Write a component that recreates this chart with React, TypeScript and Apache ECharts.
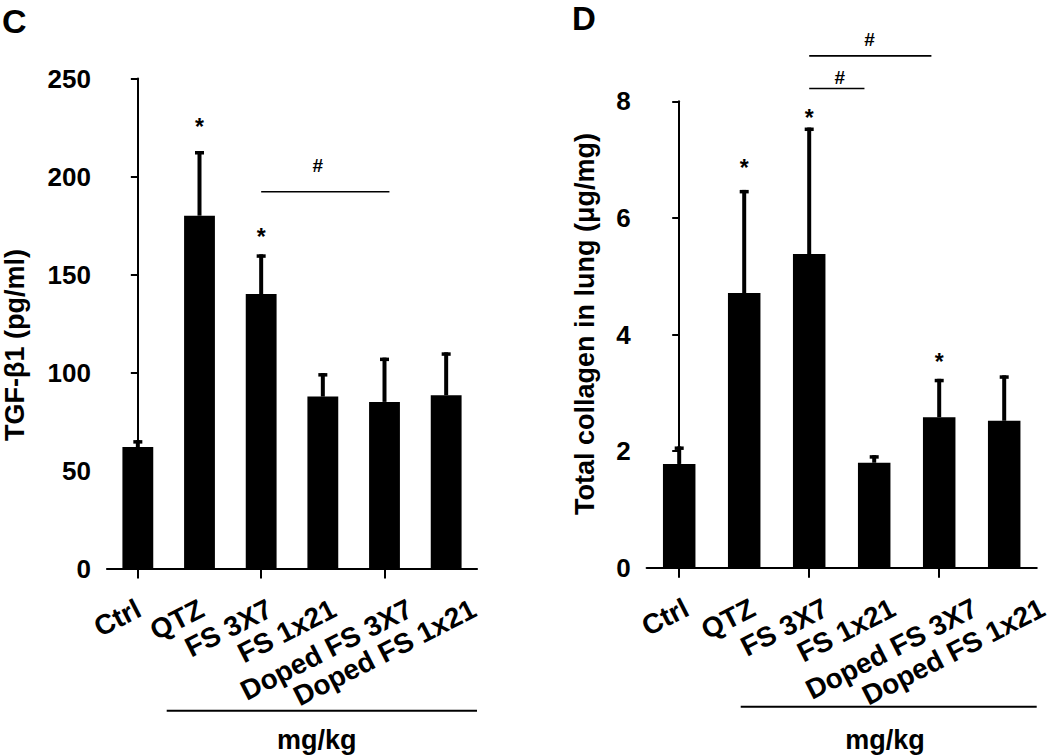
import React, { useEffect, useRef } from "react";
import * as echarts from "echarts";

const FONT = "'Liberation Sans', Arial, Helvetica, sans-serif";

// Categories (shared by both panels)
const categories = ["Ctrl", "QTZ", "FS 3X7", "FS 1x21", "Doped FS 3X7", "Doped FS 1x21"];

// Panel C: TGF-β1 (pg/ml)
const tgfMean = [62, 180, 140, 87.7, 85, 88.4];
const tgfUpper = [65.5, 213, 160.3, 99.7, 107.6, 110.3];
const tgfAxis = { min: 0, max: 250, interval: 50 };
// significance annotations: [categoryPosition, value]
const tgfStars = [
  [1, 228],
  [2, 171.8],
];
// brackets: [fromPos, toPos, lineValue, labelPos, labelValue]
const tgfBrackets = [[2, 4.08, 192.2, 2.92, 205.5]];

// Panel D: Total collagen in lung (μg/mg)
const colMean = [1.78, 4.71, 5.38, 1.8, 2.58, 2.52];
const colUpper = [2.08, 6.48, 7.55, 1.93, 3.24, 3.3];
const colAxis = { min: 0, max: 8, interval: 2 };
const colStars = [
  [1, 6.94],
  [2, 7.8],
  [4, 3.61],
];
const colBrackets = [
  [2, 2.85, 8.22, 2.47, 8.4],
  [2, 3.88, 8.78, 2.93, 9.06],
];

const panelLabels = ["C", "D"];
const yTitles = ["TGF-β1 (pg/ml)", "Total collagen in lung (μg/mg)"];
const doseLabel = "mg/kg";

// ---- styling / layout (not data) ----
const LABEL_FONT = `bold 28px ${FONT}`;
const LABEL_ROT = (27 * Math.PI) / 180;
const LABEL_GAP = 38.5;
const labelShift = [
  { base: -7.6, perWidth: 0.177 },
  { base: -2.5, perWidth: 0.205 },
];

let measureCtx: CanvasRenderingContext2D | null = null;
function textWidth(t: string, font: string): number {
  if (!measureCtx) measureCtx = document.createElement("canvas").getContext("2d");
  if (!measureCtx) return t.length * 15;
  measureCtx.font = font;
  return measureCtx.measureText(t).width;
}

function errorRender(params: any, api: any) {
  const i = api.value(0);
  const mean = api.value(1);
  const up = api.value(2);
  const top = api.coord([i, up]);
  const base = api.coord([i, mean]);
  return {
    type: "group",
    children: [
      {
        type: "rect",
        shape: { x: top[0] - 2, y: top[1], width: 4, height: base[1] - top[1] },
        style: { fill: "#000" },
      },
      {
        type: "rect",
        shape: { x: top[0] - 4.5, y: top[1], width: 9, height: 3.5 },
        style: { fill: "#000" },
      },
    ],
  };
}

function starRender(params: any, api: any) {
  const p = api.coord([api.value(0), api.value(1)]);
  return {
    type: "text",
    x: p[0],
    y: p[1] + 5,
    style: {
      text: "*",
      fill: "#000",
      font: `bold 23px ${FONT}`,
      align: "center",
      verticalAlign: "middle",
    },
  };
}

function bracketRender(params: any, api: any) {
  const a = api.coord([api.value(0), api.value(2)]);
  const b = api.coord([api.value(1), api.value(2)]);
  const l = api.coord([api.value(3), api.value(4)]);
  return {
    type: "group",
    children: [
      {
        type: "line",
        shape: { x1: a[0], y1: a[1], x2: b[0], y2: b[1] },
        style: { stroke: "#000", lineWidth: 1.6 },
      },
      {
        type: "text",
        x: l[0],
        y: l[1],
        style: {
          text: "#",
          fill: "#000",
          font: `bold 19px ${FONT}`,
          align: "center",
          verticalAlign: "middle",
        },
      },
    ],
  };
}

function labelRender(panel: number) {
  const sh = labelShift[panel];
  return (params: any, api: any) => {
    const p = api.coord([api.value(0), api.value(1)]);
    const text = categories[params.dataIndex];
    const w = textWidth(text, LABEL_FONT);
    return {
      type: "text",
      x: p[0] + sh.base + sh.perWidth * w,
      y: p[1] + LABEL_GAP,
      rotation: LABEL_ROT,
      style: {
        text,
        fill: "#000",
        font: LABEL_FONT,
        align: "right",
        verticalAlign: "middle",
      },
    };
  };
}

function catAxis(gridIndex: number) {
  return {
    type: "category",
    gridIndex,
    data: categories,
    axisLine: { show: true, lineStyle: { color: "#000", width: 2.2 } },
    axisTick: { show: true, alignWithLabel: true, length: 10, lineStyle: { color: "#000", width: 2 } },
    axisLabel: { show: false },
    splitLine: { show: false },
  };
}

function posAxis(gridIndex: number) {
  return {
    type: "value",
    gridIndex,
    min: -0.5,
    max: 5.5,
    show: false,
    splitLine: { show: false },
  };
}

function valAxis(gridIndex: number, cfg: { min: number; max: number; interval: number }) {
  return {
    type: "value",
    gridIndex,
    min: cfg.min,
    max: cfg.max,
    interval: cfg.interval,
    axisLine: { show: true, lineStyle: { color: "#000", width: 2 } },
    axisTick: { show: true, length: 7, lineStyle: { color: "#000", width: 2 } },
    axisLabel: {
      margin: 16,
      color: "#000",
      fontSize: 26,
      fontWeight: "bold",
      fontFamily: FONT,
    },
    splitLine: { show: false },
  };
}

function panelSeries(
  idx: number,
  axisMin: number,
  mean: number[],
  upper: number[],
  stars: number[][],
  brackets: number[][]
) {
  return [
    {
      type: "bar",
      xAxisIndex: idx,
      yAxisIndex: idx,
      data: mean,
      barWidth: "50%",
      itemStyle: { color: "#000" },
    },
    {
      type: "custom",
      xAxisIndex: idx,
      yAxisIndex: idx,
      data: mean.map((m, i) => [i, m, upper[i]]),
      encode: { x: 0, y: [1, 2] },
      renderItem: errorRender,
      clip: false,
      z: 3,
    },
    {
      type: "custom",
      xAxisIndex: idx + 2,
      yAxisIndex: idx,
      data: stars,
      encode: { x: 0, y: 1 },
      renderItem: starRender,
      clip: false,
      z: 4,
    },
    {
      type: "custom",
      xAxisIndex: idx + 2,
      yAxisIndex: idx,
      data: brackets,
      encode: { x: [0, 1, 3], y: [2, 4] },
      renderItem: bracketRender,
      clip: false,
      z: 4,
    },
    {
      type: "custom",
      xAxisIndex: idx + 2,
      yAxisIndex: idx,
      data: categories.map((c, i) => [i, axisMin]),
      encode: { x: 0, y: 1 },
      renderItem: labelRender(idx),
      clip: false,
      silent: true,
      z: 4,
    },
  ];
}

export default function App() {
  const ref = useRef<HTMLDivElement>(null);
  useEffect(() => {
    const chart = echarts.init(ref.current!, null, { renderer: "svg" });
    const textStyle = (size: number) => ({ fill: "#000", font: `bold ${size}px ${FONT}` });
    chart.setOption({
      animation: false,
      backgroundColor: "#fff",
      textStyle: { fontFamily: FONT },
      grid: [
        { left: 107, top: 78.5, width: 370, height: 490 },
        { left: 646.7, top: 101.3, width: 390, height: 466.4 },
      ],
      xAxis: [catAxis(0), catAxis(1), posAxis(0), posAxis(1)],
      yAxis: [valAxis(0, tgfAxis), valAxis(1, colAxis)],
      series: [
        ...panelSeries(0, tgfAxis.min, tgfMean, tgfUpper, tgfStars, tgfBrackets),
        ...panelSeries(1, colAxis.min, colMean, colUpper, colStars, colBrackets),
      ],
      graphic: [
        { type: "text", x: 2, y: 4, style: { text: panelLabels[0], ...textStyle(34), align: "left", verticalAlign: "top" } },
        { type: "text", x: 572, y: 2, style: { text: panelLabels[1], ...textStyle(33), align: "left", verticalAlign: "top" } },
        {
          type: "text",
          x: 15,
          y: 345,
          rotation: Math.PI / 2,
          style: { text: yTitles[0], ...textStyle(27), align: "center", verticalAlign: "middle" },
        },
        {
          type: "text",
          x: 585,
          y: 324,
          rotation: Math.PI / 2,
          style: { text: yTitles[1], ...textStyle(27), align: "center", verticalAlign: "middle" },
        },
        { type: "line", shape: { x1: 166.7, y1: 710.7, x2: 477, y2: 710.7 }, style: { stroke: "#000", lineWidth: 2 } },
        { type: "text", x: 316.7, y: 740, style: { text: doseLabel, ...textStyle(27), align: "center", verticalAlign: "middle" } },
        { type: "line", shape: { x1: 740.7, y1: 706.7, x2: 1036.7, y2: 706.7 }, style: { stroke: "#000", lineWidth: 2 } },
        { type: "text", x: 885, y: 740, style: { text: doseLabel, ...textStyle(27), align: "center", verticalAlign: "middle" } },
      ],
    });
    return () => chart.dispose();
  }, []);
  return (
    <div
      ref={ref}
      style={{ position: "fixed", left: 0, top: 0, width: 1050, height: 755, background: "#fff" }}
    />
  );
}
